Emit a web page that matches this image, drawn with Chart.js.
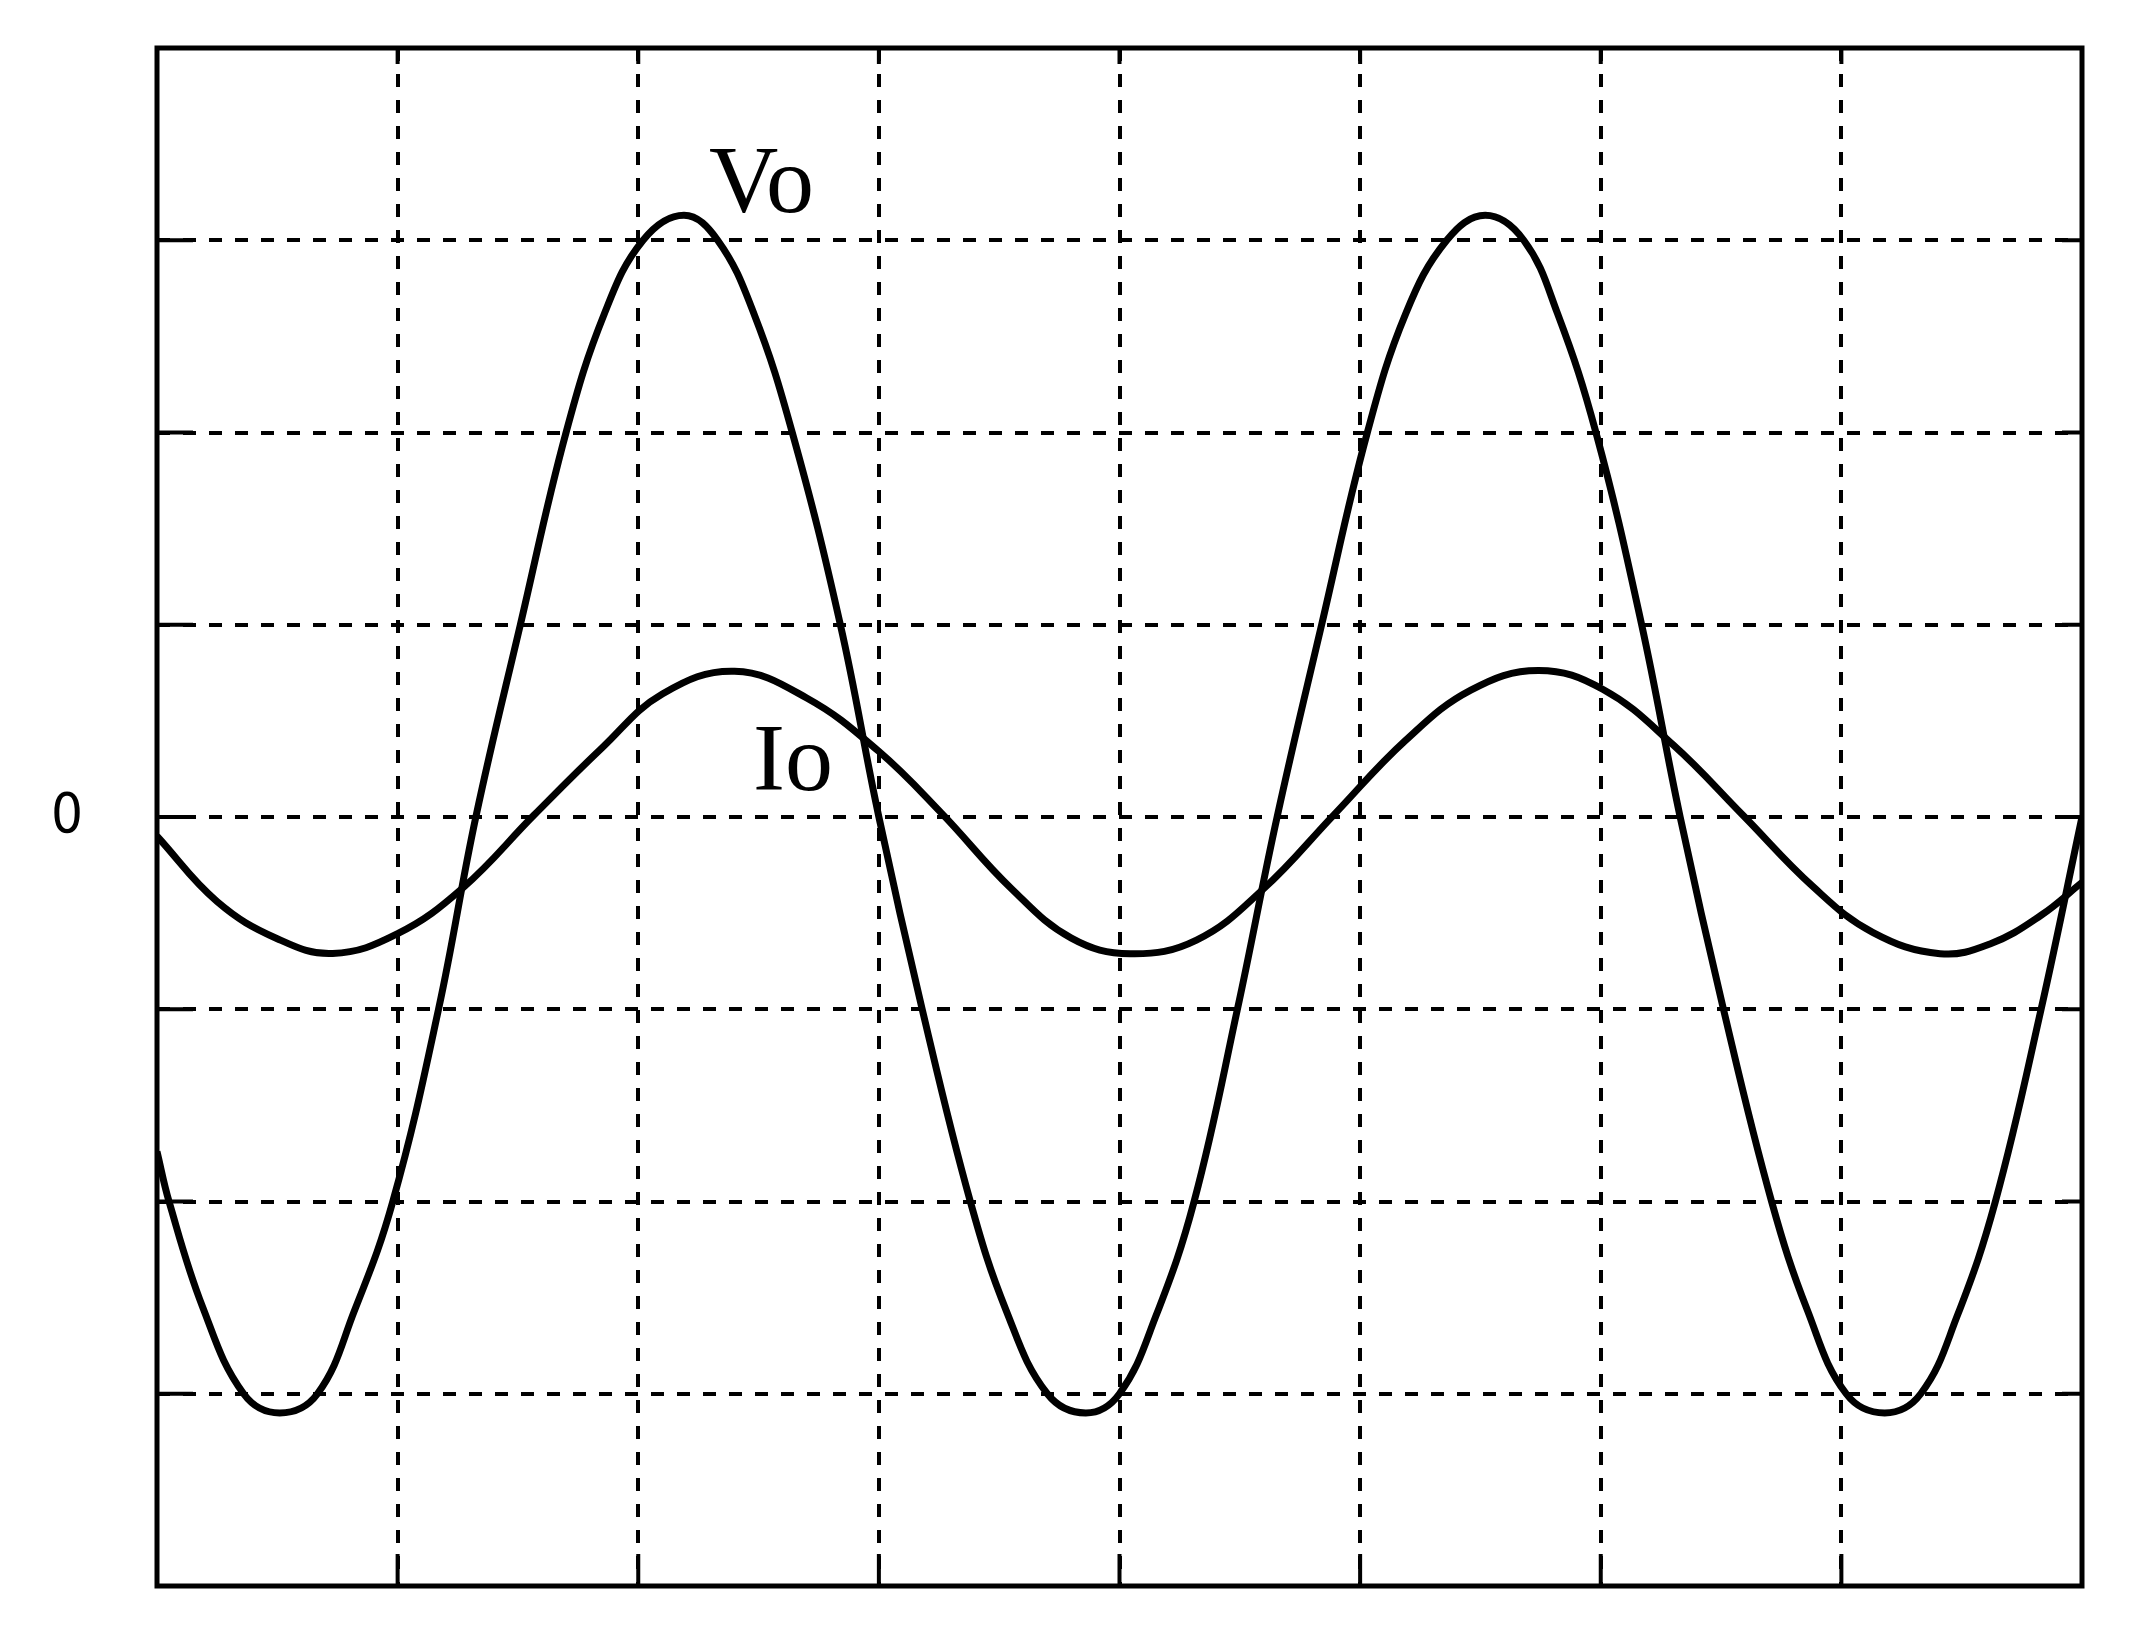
<!DOCTYPE html>
<html>
<head>
<meta charset="utf-8">
<script src="https://cdn.jsdelivr.net/npm/chart.js@4.4.1/dist/chart.umd.min.js"></script>
<style>
  html, body { margin: 0; padding: 0; background: #fff; }
  #wrap { width: 2145px; height: 1640px; }
</style>
</head>
<body>
<div id="wrap"><canvas id="grafico"></canvas></div>
<script>
// x in grid divisions (0..8), y in divisions (-4..4)
var voX = [0.00, 0.05, 0.19, 0.36, 0.51, 0.667, 0.82, 0.98, 1.17, 1.325, 1.51, 1.70, 1.86, 2.02, 2.19, 2.33, 2.48, 2.64, 2.84, 3.00,
           3.18, 3.38, 3.53, 3.70, 3.86, 4.00, 4.15, 4.31, 4.49, 4.655, 4.84, 5.03, 5.19, 5.36, 5.52, 5.68, 5.82, 5.98, 6.17, 6.33,
           6.51, 6.71, 6.86, 7.02, 7.18, 7.33, 7.48, 7.64, 7.83, 8.00];
var voY = [-1.74, -2.0, -2.55, -3.0, -3.10, -3.0, -2.57, -2.0, -1.0, 0, 1.0, 2.0, 2.62, 3.0, 3.13, 3.0, 2.62, 2.0, 1.0, 0,
           -1.0, -2.0, -2.57, -3.0, -3.10, -3.0, -2.6, -2.0, -1.0, 0, 1.0, 2.0, 2.62, 3.0, 3.13, 3.0, 2.62, 2.0, 1.0, 0,
           -1.0, -2.0, -2.57, -3.0, -3.10, -3.0, -2.6, -2.0, -1.0, 0];

var ioX = [0.00, 0.25, 0.50, 0.73, 1.00, 1.27, 1.567, 1.85, 2.10, 2.40, 2.70, 3.00, 3.26, 3.55, 3.80, 4.045,
           4.32, 4.60, 4.89, 5.19, 5.46, 5.74, 6.01, 6.30, 6.59, 6.88, 7.13, 7.41, 7.62, 7.83, 8.00];
var ioY = [-0.10, -0.44, -0.633, -0.71, -0.607, -0.37, 0.01, 0.36, 0.64, 0.758, 0.619, 0.341, 0.02, -0.372, -0.63, -0.711,
           -0.64, -0.372, 0.01, 0.40, 0.66, 0.762, 0.663, 0.376, 0.01, -0.36, -0.60, -0.711, -0.659, -0.511, -0.34];

var yTickLabels = { 0: '0' };

// curve labels, anchored in data units (left / baseline)
var curveLabels = [
    { text: 'Vo', x: 2.294, y: 3.146 },
    { text: 'Io', x: 2.477, y: 0.14 }
];

function pares(xs, ys) {
    var out = [];
    for (var i = 0; i < xs.length; i++) {
        out.push({ x: xs[i], y: ys[i] });
    }
    return out;
}

// frame, inner ticks and the curve names
var moldura = {
    id: 'moldura',
    afterDatasetsDraw: function (chart) {
        var ctx = chart.ctx;
        var a = chart.chartArea;
        var sx = chart.scales.x, sy = chart.scales.y;
        ctx.save();
        ctx.strokeStyle = '#000';
        ctx.lineWidth = 4;
        ctx.setLineDash([]);
        ctx.beginPath();
        sx.ticks.forEach(function (t) {
            var px = sx.getPixelForValue(t.value);
            ctx.moveTo(px, a.top); ctx.lineTo(px, a.top + 16);
            ctx.moveTo(px, a.bottom); ctx.lineTo(px, a.bottom - 32);
        });
        sy.ticks.forEach(function (t) {
            var py = sy.getPixelForValue(t.value);
            ctx.moveTo(a.left, py); ctx.lineTo(a.left + 36, py);
            ctx.moveTo(a.right, py); ctx.lineTo(a.right - 20, py);
        });
        ctx.stroke();
        ctx.lineWidth = 5;
        ctx.strokeRect(a.left, a.top, a.right - a.left, a.bottom - a.top);

        ctx.fillStyle = '#000';
        ctx.font = '96px "Liberation Serif", "Times New Roman", serif';
        ctx.textAlign = 'left';
        ctx.textBaseline = 'alphabetic';
        curveLabels.forEach(function (l) {
            ctx.fillText(l.text, sx.getPixelForValue(l.x), sy.getPixelForValue(l.y));
        });
        ctx.restore();
    }
};

new Chart(document.getElementById('grafico').getContext('2d'), {
    type: 'line',
    data: {
        datasets: [{
            label: 'Vo',
            data: pares(voX, voY),
            borderColor: '#000',
            borderWidth: 7,
            pointRadius: 0,
            tension: 0.4,
            fill: false
        }, {
            label: 'Io',
            data: pares(ioX, ioY),
            borderColor: '#000',
            borderWidth: 7,
            pointRadius: 0,
            tension: 0.4,
            fill: false
        }]
    },
    plugins: [moldura],
    options: {
        responsive: true,
        maintainAspectRatio: false,
        animation: false,
        layout: { padding: { left: 0, top: 48, right: 63, bottom: 54 } },
        plugins: { legend: { display: false }, tooltip: { enabled: false } },
        scales: {
            x: {
                type: 'linear',
                min: 0, max: 8,
                afterFit: function (scale) { scale.paddingLeft = 0; scale.paddingRight = 0; },
                ticks: { display: false, stepSize: 1 },
                border: { display: false, dash: [13, 13] },
                grid: { color: '#000', lineWidth: 4, drawTicks: false }
            },
            y: {
                type: 'linear',
                min: -4, max: 4,
                afterFit: function (scale) {
                    scale.width = 157;
                    scale.paddingTop = 0;
                    scale.paddingBottom = 0;
                },
                ticks: {
                    stepSize: 1,
                    padding: 74,
                    color: '#000',
                    font: { family: '"Liberation Sans Narrow", "DejaVu Sans Condensed", sans-serif', size: 56 },
                    callback: function (v) { return yTickLabels[v] !== undefined ? yTickLabels[v] : ''; }
                },
                border: { display: false, dash: [13, 13] },
                grid: { color: '#000', lineWidth: 4, drawTicks: false }
            }
        }
    }
});
</script>
</body>
</html>
